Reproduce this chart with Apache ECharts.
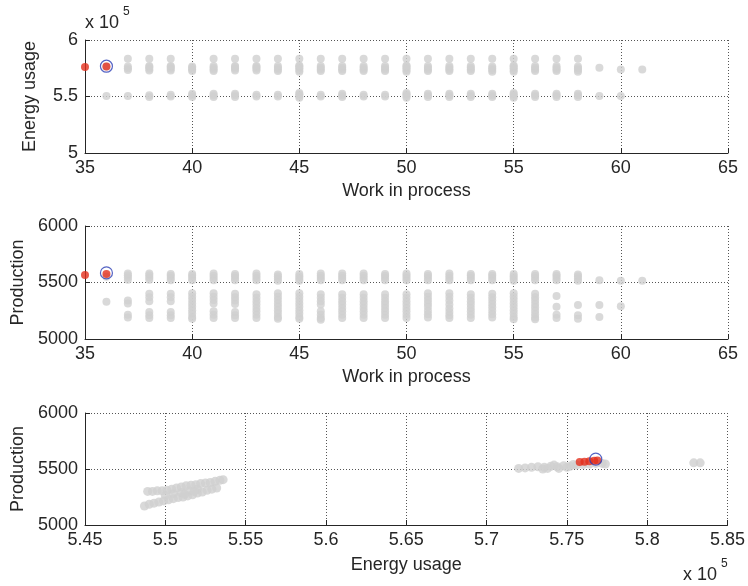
<!DOCTYPE html>
<html><head><meta charset="utf-8">
<script src="https://cdn.jsdelivr.net/npm/echarts@6/dist/echarts.min.js"></script>
<style>html,body{margin:0;padding:0;background:#fff}#c{width:748px;height:586px}</style>
</head><body><div id="c"></div>
<script>
// Work-in-process levels
const wip = [36,37,38,39,40,41,42,43,44,45,46,47,48,49,50,51,52,53,54,55,56,57,58,59,60,61];
// Energy usage (x 10^5) per WIP level (gray dots, top panel)
const energyByWip = [
  [5.765,5.505],
  [5.835,5.735,5.75,5.765,5.505],
  [5.835,5.73,5.745,5.76,5.77,5.495,5.51],
  [5.835,5.73,5.745,5.76,5.77,5.5,5.515],
  [5.725,5.74,5.755,5.765,5.495,5.51,5.525],
  [5.835,5.725,5.74,5.755,5.77,5.495,5.51,5.525],
  [5.835,5.73,5.745,5.76,5.77,5.495,5.51,5.525],
  [5.835,5.73,5.745,5.76,5.77,5.5,5.515],
  [5.835,5.725,5.74,5.755,5.77,5.5,5.515],
  [5.835,5.72,5.735,5.75,5.765,5.775,5.49,5.505,5.52,5.53],
  [5.835,5.725,5.74,5.755,5.77,5.5,5.515],
  [5.835,5.725,5.74,5.755,5.77,5.495,5.51,5.525],
  [5.835,5.725,5.74,5.755,5.77,5.5,5.515],
  [5.835,5.725,5.74,5.755,5.77,5.5,5.515],
  [5.835,5.72,5.735,5.75,5.765,5.775,5.49,5.505,5.52,5.53],
  [5.835,5.725,5.74,5.755,5.77,5.495,5.51,5.525],
  [5.835,5.725,5.74,5.755,5.77,5.495,5.51,5.525],
  [5.835,5.725,5.74,5.755,5.77,5.495,5.51,5.525],
  [5.835,5.72,5.735,5.75,5.765,5.495,5.51,5.525],
  [5.835,5.72,5.735,5.75,5.765,5.775,5.49,5.505,5.52,5.53],
  [5.835,5.725,5.74,5.755,5.77,5.495,5.51,5.525],
  [5.835,5.725,5.74,5.755,5.77,5.495,5.51,5.525],
  [5.835,5.72,5.735,5.75,5.765,5.495,5.51,5.525],
  [5.755,5.505],
  [5.74,5.505],
  [5.74]
];
// Production per WIP level (gray dots, middle panel)
const productionByWip = [
  [5550,5330],
  [5525,5545,5565,5580,5340,5315,5215,5190],
  [5525,5545,5565,5580,5400,5370,5335,5240,5210,5185],
  [5520,5540,5560,5575,5400,5370,5335,5240,5210,5185],
  [5520,5540,5560,5575,5405,5375,5345,5315,5285,5255,5225,5195,5180],
  [5520,5540,5560,5580,5405,5375,5345,5315,5245,5215,5185],
  [5520,5540,5560,5575,5400,5370,5340,5310,5240,5210,5185],
  [5520,5540,5560,5580,5395,5365,5335,5305,5275,5245,5215,5185],
  [5515,5535,5555,5570,5405,5375,5345,5315,5285,5255,5225,5195,5180],
  [5515,5535,5555,5575,5405,5375,5345,5315,5285,5255,5225,5195,5180],
  [5520,5540,5560,5580,5395,5365,5335,5305,5245,5215,5185,5170],
  [5520,5540,5560,5580,5395,5365,5335,5305,5275,5245,5215,5185],
  [5520,5540,5560,5580,5395,5365,5335,5305,5275,5245,5215,5185],
  [5520,5540,5560,5575,5395,5365,5335,5305,5275,5245,5215,5185],
  [5520,5540,5560,5580,5395,5365,5335,5305,5275,5245,5215,5185],
  [5520,5540,5560,5575,5405,5375,5345,5315,5285,5250,5220,5190],
  [5520,5540,5560,5580,5405,5375,5340,5305,5270,5240,5210,5185],
  [5520,5540,5560,5575,5395,5365,5335,5305,5275,5245,5215,5185],
  [5520,5540,5560,5575,5400,5370,5340,5310,5280,5250,5220,5190],
  [5515,5535,5555,5575,5405,5375,5345,5315,5285,5255,5225,5195,5175],
  [5520,5540,5560,5575,5400,5370,5340,5310,5280,5250,5220,5190,5175],
  [5520,5540,5560,5575,5380,5285,5215,5185],
  [5515,5535,5555,5570,5300,5210,5180],
  [5520,5300,5195],
  [5515,5290],
  [5515]
];
// Highlighted (red) solutions and selected (circled) solution
const redWip = [35, 36];
const redEnergy = [5.76, 5.765];
const redProduction = [5566, 5575];
const selWip = [36];
const selEnergy = [5.768];
const selProduction = [5585];
// Bottom panel: energy (x 10^5) vs production, gray cloud
const cloudEnergy = [5.487,5.490,5.493,5.496,5.499,5.502,5.505,5.508,5.511,5.514,5.517,5.520,5.523,5.526,5.529,5.532,
  5.489,5.492,5.495,5.498,5.501,5.504,5.507,5.510,5.513,5.516,5.519,5.522,5.525,5.528,5.531,5.534,5.536,
  5.500,5.505,5.510,5.515,5.520,5.512,5.518,
  5.720,5.724,5.728,5.732,5.735,5.736,5.740,5.744,5.745,5.748,5.752,5.756,5.760,5.764,5.768,5.772,5.774,
  5.738,5.742,5.750,5.754,
  5.829,5.833];
const cloudProduction = [5170,5185,5195,5205,5215,5225,5235,5245,5250,5260,5270,5285,5295,5310,5320,5330,
  5300,5300,5305,5305,5310,5320,5330,5340,5350,5355,5360,5370,5375,5380,5390,5400,5405,
  5265,5280,5290,5305,5320,5275,5300,
  5505,5510,5515,5520,5500,5515,5525,5520,5505,5530,5525,5535,5540,5545,5550,5550,5545,
  5505,5535,5515,5540,
  5555,5555];
const redCloudEnergy = [5.758,5.761,5.764,5.767,5.769];
const redCloudProduction = [5562,5565,5570,5573,5575];
const selCloudEnergy = [5.768];
const selCloudProduction = [5588];

const xTicksWip = {min:35, max:65, interval:5};
const font = 'Liberation Sans';
const ink = '#262626';
const GRAY = '#cfd0cf', RED = '#e4301d', BLUE = '#2b3db5';

function expand(xs, lists){ const out=[]; xs.forEach((x,i)=>lists[i].forEach(v=>out.push([x,v]))); return out; }
function zip(a,b){ return a.map((v,i)=>[v,b[i]]); }
const plain = v => String(v);

function xAx(idx, name, min, max, interval, gap){
  return {gridIndex:idx, type:'value', min, max, interval, name, nameLocation:'middle', nameGap:gap,
    nameTextStyle:{fontFamily:font, fontSize:18, color:ink},
    axisLine:{onZero:false, lineStyle:{color:ink, width:1}},
    axisTick:{inside:true, length:5, lineStyle:{color:ink}},
    axisLabel:{fontFamily:font, fontSize:18, color:ink, margin:6, formatter:plain, showMinLabel:true, showMaxLabel:true},
    splitLine:{show:true, lineStyle:{color:'#555', type:[1,2], width:1}}};
}
function yAx(idx, name, min, max, interval){
  return {gridIndex:idx, type:'value', min, max, interval, name, nameLocation:'middle', nameGap:46, nameRotate:90,
    nameTextStyle:{fontFamily:font, fontSize:18, color:ink},
    axisLine:{onZero:false, lineStyle:{color:ink, width:1}},
    axisTick:{inside:true, length:5, lineStyle:{color:ink}},
    axisLabel:{fontFamily:font, fontSize:18, color:ink, margin:7, formatter:plain, showMinLabel:true, showMaxLabel:true},
    splitLine:{show:true, lineStyle:{color:'#555', type:[1,2], width:1}}};
}
function gray(xi, data, size){ return {type:'scatter', xAxisIndex:xi, yAxisIndex:xi, data, symbolSize:size, itemStyle:{color:GRAY}, silent:true, z:2}; }
function red(xi, data){ return {type:'scatter', xAxisIndex:xi, yAxisIndex:xi, data, symbolSize:8, itemStyle:{color:RED}, silent:true, z:3}; }
function ring(xi, data){ return {type:'scatter', xAxisIndex:xi, yAxisIndex:xi, data, symbolSize:12, itemStyle:{color:'rgba(0,0,0,0)', borderColor:BLUE, borderWidth:1.2}, silent:true, z:4}; }

const chart = echarts.init(document.getElementById('c'), null, {renderer:'canvas'});
chart.setOption({
  animation:false,
  backgroundColor:'#fff',
  textStyle:{fontFamily:font},
  grid:[
    {left:85, right:20, top:40, height:113},
    {left:85, right:20, top:226, height:113},
    {left:85, right:20, top:413, height:112}
  ],
  xAxis:[
    xAx(0,'Work in process',xTicksWip.min,xTicksWip.max,xTicksWip.interval,29),
    xAx(1,'Work in process',xTicksWip.min,xTicksWip.max,xTicksWip.interval,29),
    xAx(2,'Energy usage',5.45,5.85,0.05,31)
  ],
  yAxis:[
    yAx(0,'Energy usage',5,6,0.5),
    yAx(1,'Production',5000,6000,500),
    yAx(2,'Production',5000,6000,500)
  ],
  series:[
    gray(0, expand(wip, energyByWip), 8),
    red(0, zip(redWip, redEnergy)),
    ring(0, zip(selWip, selEnergy)),
    gray(1, expand(wip, productionByWip), 8),
    red(1, zip(redWip, redProduction)),
    ring(1, zip(selWip, selProduction)),
    gray(2, zip(cloudEnergy, cloudProduction), 9),
    red(2, zip(redCloudEnergy, redCloudProduction)),
    ring(2, zip(selCloudEnergy, selCloudProduction))
  ],
  graphic:[
    {type:'text', left:85, top:14, style:{text:'x 10', font:'18px "Liberation Sans"', fill:ink}},
    {type:'text', left:123, top:6, style:{text:'5', font:'12px "Liberation Sans"', fill:ink}},
    {type:'text', left:683, top:566, style:{text:'x 10', font:'18px "Liberation Sans"', fill:ink}},
    {type:'text', left:721, top:558, style:{text:'5', font:'12px "Liberation Sans"', fill:ink}}
  ]
});
</script></body></html>
